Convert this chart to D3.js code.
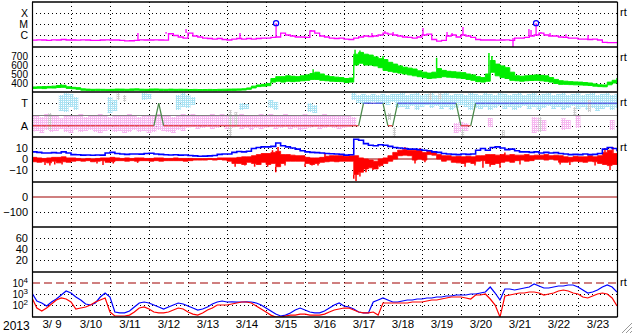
<!DOCTYPE html>
<html><head><meta charset="utf-8">
<script src="https://cdn.jsdelivr.net/npm/d3@7"></script>
<style>
html,body{margin:0;padding:0;background:#fff;}
svg{display:block;font-family:"Liberation Sans",Arial,sans-serif;}
</style></head><body>
<svg id="c" width="633" height="334"></svg>
<script>
// ---------------- DATA (3-hourly samples from 2013-03-09 00UT to 2013-03-24 00UT) ----------------
const startDate = new Date(Date.UTC(2013, 2, 9));
const endDate = new Date(Date.UTC(2013, 2, 24));
const stepHours = 3;
const yearLabel = "2013";
const dayLabels = ["3/ 9","3/10","3/11","3/12","3/13","3/14","3/15","3/16","3/17","3/18","3/19","3/20","3/21","3/22","3/23"];

// X-ray flux (W/m2)
const xrayFlux = [
 3.4e-7,3.6e-7,3.5e-7,3.3e-7,3.6e-7,3.5e-7,3.9e-7,3.5e-7,
 3.5e-7,3.4e-7,3.6e-7,3.5e-7,3.3e-7,3.2e-7,3.5e-7,3.6e-7,
 3.5e-7,3.5e-7,3.2e-7,2.9e-7,3.0e-7,3.3e-7,3.6e-7,3.5e-7,
 3.5e-7,3.6e-7,3.5e-7,3.4e-7,1.3e-6,9.0e-7,6.6e-7,5.3e-7,
 1.5e-6,8.1e-7,6.6e-7,5.3e-7,4.8e-7,4.3e-7,4.8e-7,3.9e-7,
 3.5e-7,4.3e-7,4.8e-7,4.3e-7,4.8e-7,4.3e-7,4.8e-7,5.3e-7,
 5.3e-7,6.0e-7,6.6e-7,1.5e-6,1.0e-6,8.1e-7,6.6e-7,6.6e-7,
 6.0e-7,2.3e-6,1.5e-6,8.1e-7,6.6e-7,5.3e-7,4.8e-7,5.3e-7,
 4.3e-7,3.9e-7,5.3e-7,6.6e-7,8.1e-7,7.3e-7,8.1e-7,1.0e-6,
 1.5e-6,1.2e-6,1.0e-6,8.1e-7,6.6e-7,6.0e-7,5.3e-7,6.6e-7,
 1.0e-6,1.2e-6,3.9e-7,2.8e-7,3.2e-7,8.1e-7,1.0e-6,6.6e-7,
 1.0e-6,8.1e-7,6.0e-7,3.9e-7,3.5e-7,3.5e-7,3.5e-7,3.4e-7,
 3.5e-7,3.6e-7,3.2e-7,5.3e-7,5.3e-7,6.0e-7,8.1e-7,1.0e-6,
 1.5e-6,1.0e-6,8.1e-7,8.1e-7,6.6e-7,6.0e-7,5.3e-7,5.3e-7,
 4.3e-7,4.3e-7,3.9e-7,4.3e-7,3.5e-7,2.1e-7,2.0e-7,2.0e-7,
 2.0e-7];
// short X-ray spikes (hours from start, flux)
const xraySpikeHour = [65.2,82.5,94.8,128,171.7,209.2,217.2,222.2,240.6,255.4,258.5,265.2,296,305.8,307.1,313.2,318.8,328.6,342.2];
const xraySpikeFlux = [1.5e-6,1.9e-6,3.5e-6,1.5e-6,2.8e-6,1.5e-6,2.3e-6,1.9e-6,4.3e-6,1.9e-6,1.5e-6,5.3e-6,8e-8,3.5e-6,2.8e-6,1.9e-6,1.5e-6,1.2e-6,1.0e-6];
// flare events (marked with circles)
const flareHour = [150.2, 310.2];
const flareFlux = [1.2e-5, 1.2e-5];

// Solar wind speed (km/s): min/max in each 3-h sample
const speedLo = [
 340,342,338,345,344,350,352,340, 336,330,320,318,317,318,318,316,
 316,318,317,315,318,320,318,317, 318,319,317,316,318,315,316,317,
 314,315,313,314,315,314,316,316, 318,318,320,322,330,345,360,365,
 370,410,420,410,420,415,420,425, 430,440,440,430,425,420,418,415,
 405,410,600,620,600,600,590,570, 540,530,520,510,500,490,480,470,
 460,450,455,460,470,465,460,455, 450,440,430,415,410,420,520,480,
 460,450,430,425,420,425,428,430, 425,420,410,395,385,385,382,380,
 378,376,372,365,360,358,380,400, 420];
const speedHi = [
 356,358,360,362,365,372,375,358, 352,348,335,332,330,331,330,329,
 330,333,332,330,334,335,331,330, 333,334,331,330,332,330,331,330,
 328,329,327,328,329,328,330,331, 332,333,334,336,345,365,378,385,
 395,450,470,470,480,475,470,480, 490,505,520,500,480,470,465,460,
 450,455,720,740,720,710,690,670, 660,630,610,590,575,565,555,535,
 520,510,520,560,540,530,525,520, 515,500,490,470,460,500,650,610,
 590,570,520,480,475,480,485,490, 485,480,460,440,425,420,415,412,
 410,405,400,390,380,378,410,430, 455];
// short speed spikes (hours from start, km/s)
const speedSpikeHour = [17.8,173,198.8,201.8,216,249,281.2,283];
const speedSpikeVal = [389,552,770,760,700,680,733,700];

// IMF sector (A = away, T = toward)
const sectorCodes = ("AAAAAAAAAAAAAAAAAAAAAAAAAA" + "T" + "AAAAAAAAAAAAAAAAAAAAAAAAAAAAAAAAAAAAAAAAA" +
  "TTTTT" + "AA" + "TTTTTTTTTTTTT" + "AAA" + "TTTTTTTTTTTTTTTTTTTTTTTTTTTTTT").split("");
const sectorLabels = ["T", "A"];
const sectorPhi = {T: 270, A: 90};
// IMF azimuth clouds (deg): away (pink) and toward (light blue) ranges per sample
const awayLo = [40,48,32,56,40,48,64,40, 32,56,40,48,56,40,32,48, 56,40,48,32,40,56,40,48, 32,40,56,48,40,32,56,48,
 72,80,64,72,80,64,72,88, 64,72,80,64,72,56,72,64, 72,80,64,72,80,64,72,56, 64,72,80,64,72,80,72,64,
 72,80,88,null,null,null,null,null, null,null,null,null,null,null,null,null, null,null,null,null,null,null,null,32,
 40,48,null,null,null,null,80,null, null,null,null,null,null,null,null,32, 40,48,null,null,null,56,64,null,
 72,null,null,null,null,null,null,56, null];
const awayHi = [168,176,160,184,170,176,150,176, 168,176,184,160,176,168,184,176, 160,176,168,176,184,168,160,176, 168,176,184,168,176,160,176,184,
 176,184,176,168,176,184,176,184, 176,168,176,184,176,168,176,184, 176,184,168,176,184,176,168,176, 184,176,168,176,184,176,168,176,
 176,168,160,null,null,null,null,null, null,null,null,null,null,null,null,null, null,null,null,null,null,null,null,112,
 120,112,null,null,null,null,152,null, null,null,null,null,null,null,null,160, 150,136,null,null,null,150,136,null,
 176,null,null,null,null,null,null,136, null];
const towardLo = [null,null,null,null,null,null,208,200, 240,216,null,null,null,null,null,null, 192,208,null,null,null,null,null,296, 304,null,null,null,null,null,216,240,
 232,256,null,null,null,null,null,null, null,null,null,216,224,null,null,null, null,232,216,null,null,null,null,null, null,200,192,null,null,null,null,null,
 null,null,296,272,264,272,280,264, 272,256,280,232,240,224,248,216, 240,256,232,248,224,240,216,232, 256,240,216,232,224,240,216,232,
 248,224,240,216,232,248,224,240, 216,232,248,224,240,216,232,248, 224,240,216,232,208,224,240,216, 232];
const towardHi = [null,null,null,null,null,null,336,352, 344,320,null,null,null,null,null,null, 320,296,null,null,null,null,null,352, 344,null,null,null,null,null,336,352,
 336,320,null,null,null,null,null,null, null,null,null,272,264,null,null,null, null,296,280,null,null,null,null,null, null,272,256,null,null,null,null,null,
 null,null,352,336,344,336,344,336, 344,336,344,344,352,336,344,352, 336,344,352,336,344,352,336,344, 344,336,352,344,336,352,344,336,
 352,344,336,344,352,336,344,352, 336,344,352,336,344,352,336,344, 352,336,344,352,336,344,352,336, 344];
// grey (uncertain) azimuth streaks
const grayHour = [11,53,57,122,125.5,220,223,245,251,265,290,312.6,334,343];
const grayLo = [56,296,280,0,80,136,0,296,304,0,0,40,176,200];
const grayHi = [192,352,336,216,200,192,80,352,352,64,56,160,240,296];

// IMF Bt (nT), Bz dense range per sample (nT), Bz short spikes
const bt = [
 6.5,6,5.5,5.5,5.8,5.5,6.5,5.5, 4,3.8,3.5,3.6,3.4,3.7,3.5,5.5,
 6,5,4.5,4.2,4.5,4.6,4.4,5, 5.2,4.5,4.2,3.8,3.6,3.8,3.5,3.6,
 3.2,2.8,2.5,2.6,2.8,3.2,4.2,4.5, 4.6,6,6.8,6.5,7,9.5,10.5,11,
 11,11.5,14.5,12,11,10,9,7.5, 6.5,6,5.8,5.5,5,4.8,4.5,4.2,
 3.5,3.8,18,17,14,12.5,12,13, 12.5,11.5,10.5,10,9.5,9,9,8.5,
 8,7.5,6.5,6,5,4.5,4.2,4, 4.5,4.2,4.6,8,9.5,8,10.5,11,
 10,8.5,9,7.5,6.5,6.5,6,6.5, 5.5,6,5.5,5.8,5,4.5,4,4.2,
 4,4.5,4,4.2,5,9,10.5,9.5, 7];
const bzLo = [
 -2.5,-3,-2.5,-3.5,-2,-3.5,-2.5,-3, -2,-1.5,-2,-1.5,-2.5,-2,-1.5,-3,
 -2.5,-1.5,-1.5,-2,-1.5,-2,-1.5,-1.5, -2,-1.5,-2,-1.5,-1.5,-1.5,-1.5,-2,
 -1.5,-1,-1,-1,-0.5,-1,-0.5,-1, -2,-4,-4,-5,-3,-4,-5,-3,
 -5,-4,-7,-4,-2,-2,-2,-2, -4,-5,-4,-3,-2.5,-2,-2.5,-2,
 -2,-2,-14,-12,-9,-8,-9,-6, -4,-2,0,3,3.5,3,-1,0,
 -1,4,3.5,0,-2,-1,-3,-3.5, -4,-3,-4,-2,-1.5,-4,-5,-4,
 -3,-2,-3,-1.5,-1,-2,-1.5,0, 0,-1,0,-1,-3,-3,-2.5,-2,
 -2.5,-3,-2,-2.5,-4,-5,-6,-5, -2];
const bzHi = [
 1.5,1,0.5,1,1.5,1.5,2,1, 1,0.5,0,0.5,0,0.5,1,1,
 1.5,1,0.5,1,0.5,1,1,0.5, 0.5,1,1,0.5,0.5,1,0.5,0.5,
 0.5,0.3,0.3,0.3,0.5,0.3,1,1, 1,1,1.5,2,2,3,4,5,
 5,6,7,4,4,3.5,3,3, 1.5,1,1,1.5,2.5,3,3,3,
 2.5,3,3,1,0,-1,-2,0, 1,3,6,8,8.5,8,8,8,
 6,7,6.5,4,3,3,2,2.5, 2,2.5,2,3,3,4,4,3.5,
 4,3.5,4,3.5,3.5,4,3,3.5, 3.5,4,3,3.5,3,2,1.5,2.5,
 2,2,3,2,3,6,8,5, 2];
const bzSpikeHour = [8,11,14,18.5,40,43.7,50,65,125,131,137,145,148,150,151.4,155.7,168,172.3,176,180.3,
 198,199.4,201.8,205.5,209.8,214,229.5,235.7,238.8,241.8,266.5,272.6,277.5,281.9,288,291,300.3,325,331,346.5,352.6,355.7,357.5];
const bzSpikeVal = [-5.5,-6,-5,-5,-4,-5.5,-4,-3.5,-7,-6,-7,-7,8,-12,11,-6,-7,-6,-6,5,
 -18,-20,-16,-12,-10,-7,11,-4,10,-3,-7,-6,-8,-7,-8,6,-5,-5,-5.5,-6,10,-10,11];

// Dst and Kp-like panels: axes only (no data in this period)
const dstTicks = [0, -100];
const kpTicks = [60, 40, 20];

// Electron flux (>0.8 MeV blue, >2 MeV red)
const eFluxLow = [
 1230,231,152,81,187,351,811,1870, 1230,534,285,123,100,152,534,1230,
 534,23,19,19,28,66,152,187, 152,100,66,43,66,100,152,123,
 81,53,35,43,66,123,187,231, 187,190,185,187,192,187,152,100,
 53,28,15,10,12,19,35,53, 35,23,19,19,28,53,100,152,
 81,66,43,23,19,19,187,285, 433,285,187,187,231,285,285,351,
 351,433,433,534,534,658,658,811, 811,811,1000,1000,1230,1520,4330,1230,
 285,2850,2850,2310,2850,3510,4330,8110, 5340,3510,3510,4330,5340,5340,6580,6580,
 4330,2310,1230,1520,2310,4330,6580,4330, 1520];
const eFluxHigh = [
 433,53,28,53,123,285,433,351, 187,43,53,66,100,187,285,433,
 23,10,10,10,12,23,53,66, 43,23,19,19,23,35,53,43,
 23,15,12,19,35,53,100,100, 100,123,152,187,187,152,81,43,
 23,12,8,8,10,12,12,15, 15,12,12,12,15,23,35,43,
 53,53,35,23,19,19,23,12, 152,152,152,152,152,152,187,187,
 187,231,285,285,351,433,534,534, 534,433,351,811,811,1000,351,100,
 8,658,811,1000,1230,1230,1520,1520, 1230,811,1000,1230,1870,2310,1870,1230,
 1000,534,433,658,1000,1230,1000,433, 81];
const eFluxTicks = [1e4, 1e3, 1e2];
const eFluxAlert = 1e4;

// ---------------- DRAWING ----------------
const svg = d3.select("#c");
const L = 32, R = 617;
const PT = [2, 47, 92, 137, 182, 227, 272], PH = 45;
const FONT = "'Liberation Sans', Arial, sans-serif";
const H = 3600e3;
const tAt = i => new Date(startDate.getTime() + i * stepHours * H);
const tH = h => new Date(startDate.getTime() + h * H);

const x = d3.scaleUtc().domain([startDate, endDate]).range([L, R]);
const yX = d3.scaleLog().domain([1e-7, 1e-3]).range([46, 2]);
const ySp = d3.scaleLinear().domain([300, 800]).range([92, 47]);
const yPhi = d3.scaleLinear().domain([0, 360]).range([137, 92]);
const yB = d3.scaleLinear().domain([-20, 20]).range([181, 137]);
const yDst = d3.scaleLinear().domain([-200, 100]).range([227, 182]);
const yK = d3.scaleLinear().domain([0, 80]).range([271, 227]);
const yE = d3.scaleLog().domain([10, 1e5]).range([316, 272]);

const defs = svg.append("defs");
PT.forEach((t, k) => {
  defs.append("clipPath").attr("id", "cp" + k).append("rect")
    .attr("x", L).attr("y", t).attr("width", R - L).attr("height", PH);
});
function pat(id, col) {
  const p = defs.append("pattern").attr("id", id).attr("width", 2).attr("height", 2)
    .attr("patternUnits", "userSpaceOnUse");
  p.append("rect").attr("width", 2).attr("height", 1).attr("fill", col);
  p.append("rect").attr("y", 1).attr("width", 1).attr("height", 1).attr("fill", col);
}
pat("pT", "#a9e2f3");
pat("pA", "#f6b6f0");
pat("pG", "#cccccc");

const gridG = svg.append("g");
function hgrid(scale, vals) {
  vals.forEach(v => {
    gridG.append("line").attr("x1", L).attr("x2", R)
      .attr("y1", Math.round(scale(v)) + 0.5).attr("y2", Math.round(scale(v)) + 0.5)
      .attr("stroke", "#000").attr("stroke-dasharray", "1,3").attr("shape-rendering", "crispEdges");
  });
}
for (let d = 1; d < dayLabels.length; d++) {
  const xx = Math.round(x(new Date(startDate.getTime() + d * 24 * H))) + 0.5;
  gridG.append("line").attr("x1", xx).attr("x2", xx).attr("y1", 2).attr("y2", 317)
    .attr("stroke", "#000").attr("stroke-dasharray", "1,3").attr("shape-rendering", "crispEdges");
}
hgrid(yX, [1e-4, 1e-5, 1e-6]);
hgrid(ySp, [700, 600, 500, 400]);
hgrid(yPhi, [270, 90]);
hgrid(yB, [10, -10]);
hgrid(yDst, [-100]);
hgrid(yK, kpTicks);
hgrid(yE, [1e3, 1e2]);

function leftAxis(scale, vals, fmt, fs) {
  const g = svg.append("g").attr("transform", `translate(${L},0)`)
    .call(d3.axisLeft(scale).tickValues(vals).tickFormat(fmt).tickSize(0).tickPadding(4));
  g.select(".domain").remove();
  g.selectAll("text").attr("font-size", fs || 11).attr("font-family", FONT).attr("fill", "#000");
  return g;
}
const xrayNames = {"-4": "X", "-5": "M", "-6": "C"};
leftAxis(yX, [1e-4, 1e-5, 1e-6], v => xrayNames[Math.round(Math.log10(v))], 10.5);
leftAxis(ySp, [700, 600, 500, 400], d3.format("d"), 10);
leftAxis(yPhi, sectorLabels.map(s => sectorPhi[s]), v => v === 270 ? "T" : "A");
leftAxis(yB, [10, 0, -10], d3.format("d"));
leftAxis(yDst, dstTicks, d3.format("d"));
leftAxis(yK, kpTicks, d3.format("d"));
const eAx = leftAxis(yE, eFluxTicks, v => "10", 10);
eAx.selectAll("text").each(function (v) {
  d3.select(this).append("tspan").attr("dy", "-0.45em").attr("font-size", 8).text(Math.round(Math.log10(v)));
});

const xb = svg.append("g").attr("transform", `translate(0,317)`)
  .call(d3.axisBottom(x).tickValues(dayLabels.map((_, k) => new Date(startDate.getTime() + (k * 24 + 12) * H)))
    .tickFormat((d, k) => dayLabels[k]).tickSize(0).tickPadding(3));
xb.select(".domain").remove();
xb.selectAll("text").attr("font-size", 11.5).attr("font-family", FONT).attr("fill", "#000");
svg.append("text").attr("x", 3).attr("y", 330).attr("font-size", 12).attr("font-family", FONT).text(yearLabel);

// ---- panel 1: X-ray
const p1 = svg.append("g").attr("clip-path", "url(#cp0)");
p1.append("path").datum(xrayFlux)
  .attr("d", d3.line().x((d, i) => x(tAt(i))).y(d => yX(d)).curve(d3.curveStepAfter))
  .attr("fill", "none").attr("stroke", "#ff00ff").attr("stroke-width", 1.3);
xraySpikeHour.forEach((h, k) => {
  const base = xrayFlux[Math.round(h / stepHours)];
  p1.append("line").attr("x1", x(tH(h))).attr("x2", x(tH(h)))
    .attr("y1", yX(base)).attr("y2", yX(xraySpikeFlux[k])).attr("stroke", "#ff00ff").attr("stroke-width", 1.3);
});
flareHour.forEach((h, k) => {
  const base = xrayFlux[Math.round(h / stepHours)];
  p1.append("line").attr("x1", x(tH(h))).attr("x2", x(tH(h)))
    .attr("y1", yX(base)).attr("y2", yX(flareFlux[k])).attr("stroke", "#ff00ff").attr("stroke-width", 1.3);
  p1.append("circle").attr("cx", x(tH(h))).attr("cy", yX(flareFlux[k])).attr("r", 2.6)
    .attr("fill", "none").attr("stroke", "#0000ff").attr("stroke-width", 1.2);
});

const bw = x(tAt(1)) - x(tAt(0));

// ---- panel 2: speed
const p2 = svg.append("g").attr("clip-path", "url(#cp1)");
p2.append("path").datum(speedLo.map((v, i) => [v, speedHi[i]]))
  .attr("d", d3.area().x((d, i) => x(tAt(i))).y0(d => ySp(d[0])).y1(d => ySp(d[1])).curve(d3.curveStepAfter))
  .attr("fill", "#00ee00").attr("stroke", "#00ee00").attr("stroke-width", 1);
speedSpikeHour.forEach((h, k) => {
  const i = Math.floor(h / stepHours);
  p2.append("line").attr("x1", x(tH(h))).attr("x2", x(tH(h)))
    .attr("y1", ySp(speedHi[i])).attr("y2", ySp(speedSpikeVal[k])).attr("stroke", "#00ee00").attr("stroke-width", 1.5);
});

// ---- panel 3: IMF sector
const p3 = svg.append("g").attr("clip-path", "url(#cp2)");
awayLo.forEach((lo, i) => {
  if (lo == null) return;
  p3.append("rect").attr("x", x(tAt(i)) - bw / 2).attr("width", bw)
    .attr("y", yPhi(awayHi[i])).attr("height", yPhi(lo) - yPhi(awayHi[i])).attr("fill", "url(#pA)");
});
towardLo.forEach((lo, i) => {
  if (lo == null) return;
  p3.append("rect").attr("x", x(tAt(i)) - bw / 2).attr("width", bw)
    .attr("y", yPhi(towardHi[i])).attr("height", yPhi(lo) - yPhi(towardHi[i])).attr("fill", "url(#pT)");
});
grayHour.forEach((h, k) => {
  p3.append("rect").attr("x", x(tH(h)) - 1.5).attr("width", 3)
    .attr("y", yPhi(grayHi[k])).attr("height", yPhi(grayLo[k]) - yPhi(grayHi[k])).attr("fill", "url(#pG)");
});
p3.append("line").attr("x1", L).attr("x2", R).attr("y1", Math.round(yPhi(180)) + 0.5).attr("y2", Math.round(yPhi(180)) + 0.5)
  .attr("stroke", "#808080").attr("stroke-width", 1.2);
for (let i = 0; i < sectorCodes.length - 1; i++) {
  const a = sectorCodes[i], b = sectorCodes[i + 1];
  const col = (a === b) ? (a === "A" ? "#e03030" : "#4848e0") : "#4a8a4a";
  p3.append("line").attr("x1", x(tAt(i))).attr("x2", x(tAt(i + 1)))
    .attr("y1", yPhi(sectorPhi[a])).attr("y2", yPhi(sectorPhi[b])).attr("stroke", col).attr("stroke-width", 1.2);
}

// ---- panel 4: IMF
const p4 = svg.append("g").attr("clip-path", "url(#cp3)");
p4.append("line").attr("x1", L).attr("x2", R).attr("y1", yB(0)).attr("y2", yB(0)).attr("stroke", "#a00000").attr("stroke-width", 1.2);
p4.append("path").datum(bzLo.map((v, i) => [v, bzHi[i]]))
  .attr("d", d3.area().x((d, i) => x(tAt(i))).y0(d => yB(d[0])).y1(d => yB(d[1])).curve(d3.curveStepAfter))
  .attr("fill", "#ff0000").attr("stroke", "#ff0000").attr("stroke-width", 0.8);
bzSpikeHour.forEach((h, k) => {
  const i = Math.floor(h / stepHours);
  const v = bzSpikeVal[k];
  p4.append("line").attr("x1", x(tH(h))).attr("x2", x(tH(h)))
    .attr("y1", yB(v < 0 ? bzLo[i] : bzHi[i])).attr("y2", yB(v)).attr("stroke", "#ff0000").attr("stroke-width", 1.5);
});
p4.append("path").datum(bt)
  .attr("d", d3.line().x((d, i) => x(tAt(i))).y(d => yB(d)).curve(d3.curveStepAfter))
  .attr("fill", "none").attr("stroke", "#0000ff").attr("stroke-width", 1.6);

// ---- panel 5: Dst
svg.append("line").attr("x1", L).attr("x2", R).attr("y1", yDst(0)).attr("y2", yDst(0)).attr("stroke", "#a00000").attr("stroke-width", 1.2);

// ---- panel 7: electrons
const p7 = svg.append("g").attr("clip-path", "url(#cp6)");
p7.append("line").attr("x1", L).attr("x2", R).attr("y1", yE(eFluxAlert)).attr("y2", yE(eFluxAlert))
  .attr("stroke", "#a00000").attr("stroke-width", 1.2).attr("stroke-dasharray", "8,4");
[[eFluxLow, "#0000ff"], [eFluxHigh, "#ff0000"]].forEach(([arr, col]) => {
  p7.append("path").datum(arr)
    .attr("d", d3.line().x((d, i) => x(tAt(i))).y(d => yE(d)))
    .attr("fill", "none").attr("stroke", col).attr("stroke-width", 1.2);
});

// ---- frame
PT.concat([317]).forEach(t => {
  svg.append("line").attr("x1", L).attr("x2", R + 0.5).attr("y1", t).attr("y2", t).attr("stroke", "#000").attr("stroke-width", 1.6);
});
[L, R].forEach(xx => {
  svg.append("line").attr("x1", xx + 0.5).attr("x2", xx + 0.5).attr("y1", 2).attr("y2", 317).attr("stroke", "#000").attr("stroke-width", 1.2);
});
[0, 1, 2, 3, 6].forEach(k => {
  svg.append("text").attr("x", 620).attr("y", PT[k] + 14).attr("font-size", 11).attr("font-family", FONT).text("rt");
});
[[622, 333, 632, 323], [626, 333, 632, 327], [630, 333, 632, 331]].forEach(s => {
  svg.append("line").attr("x1", s[0]).attr("y1", s[1]).attr("x2", s[2]).attr("y2", s[3]).attr("stroke", "#999");
});
</script>
</body></html>
